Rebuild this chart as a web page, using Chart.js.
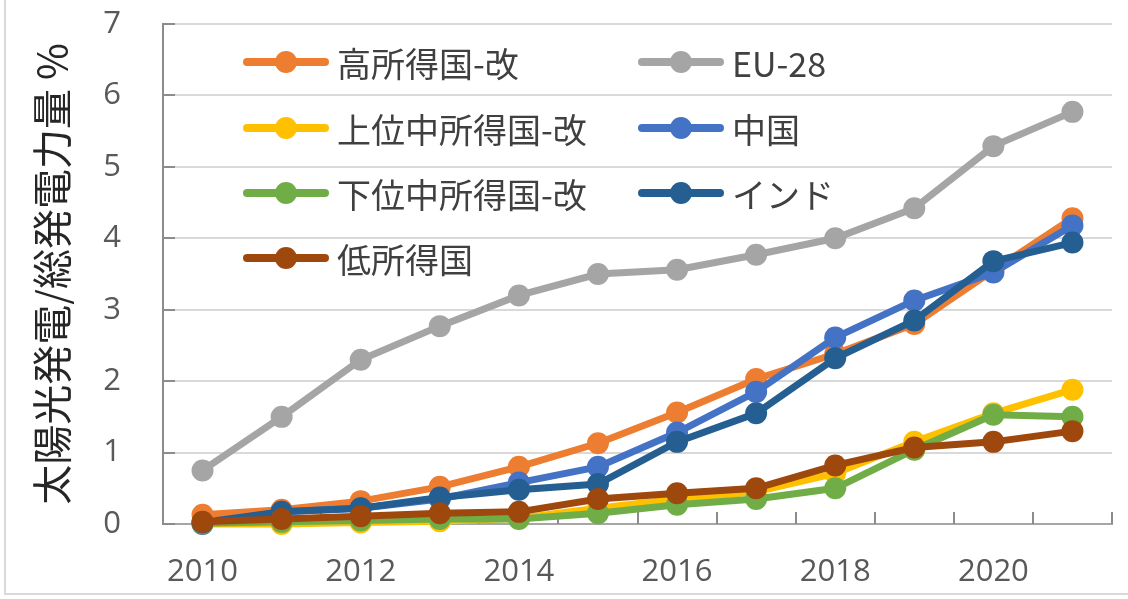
<!DOCTYPE html>
<html><head><meta charset="utf-8">
<script src="https://cdn.jsdelivr.net/npm/chart.js@4/dist/chart.umd.min.js"></script>
<style>
html,body{margin:0;padding:0;background:#fff;}
#wrap{position:relative;width:1128px;height:599px;overflow:hidden;background:#fff;}
#c{position:absolute;left:0;top:0;}
#frame{position:absolute;left:4px;top:-10px;width:1200px;height:605px;border-left:2px solid #d9d9d9;border-bottom:2px solid #d9d9d9;box-sizing:border-box;pointer-events:none;}
.leg{position:absolute;height:40px;display:flex;align-items:center;font-family:"Noto Sans CJK JP","Noto Sans",sans-serif;font-size:34px;color:#404040;white-space:nowrap;}
.sw{position:relative;width:86px;height:24px;margin-right:8px;flex:none;}
.sw .ln{position:absolute;left:0;right:0;top:8px;height:8px;border-radius:4px;}
.sw .dt{position:absolute;left:32px;top:1px;width:22px;height:22px;border-radius:50%;}
</style></head>
<body>
<div id="wrap">
<canvas id="c" width="1128" height="599"></canvas>
<div id="frame"></div>
<div id="legend"></div>
</div>
<script>
const years = ['2010','2011','2012','2013','2014','2015','2016','2017','2018','2019','2020','2021'];
const seriesNames = ['高所得国-改','EU-28','上位中所得国-改','中国','下位中所得国-改','インド','低所得国'];
const highIncome  = [0.13,0.20,0.32,0.52,0.80,1.13,1.56,2.03,2.38,2.80,3.55,4.28];
const eu28        = [0.75,1.50,2.30,2.77,3.20,3.50,3.56,3.77,4.00,4.42,5.29,5.77];
const upperMiddle = [0.00,0.00,0.02,0.04,0.08,0.22,0.35,0.45,0.71,1.15,1.55,1.88];
const china       = [0.00,0.17,0.22,0.35,0.58,0.80,1.28,1.85,2.61,3.13,3.52,4.18];
const lowerMiddle = [0.01,0.03,0.05,0.07,0.07,0.15,0.27,0.35,0.50,1.04,1.53,1.50];
const india       = [0.02,0.17,0.22,0.37,0.48,0.56,1.15,1.55,2.32,2.85,3.68,3.94];
const lowIncome   = [0.03,0.07,0.11,0.15,0.17,0.35,0.43,0.50,0.82,1.07,1.15,1.30];
const yTicks = [0,1,2,3,4,5,6,7];
const yTitle = '太陽光発電/総発電力量 %';

const colors = ['#ED7D31','#A5A5A5','#FFC000','#4472C4','#70AD47','#255E91','#9E480E'];
const values = [highIncome, eu28, upperMiddle, china, lowerMiddle, india, lowIncome];

const datasets = seriesNames.map((n,i)=>({
  label:n, data:values[i], borderColor:colors[i], backgroundColor:colors[i],
  pointBackgroundColor:colors[i], pointBorderWidth:0, pointRadius:11,
  borderWidth:7, tension:0, clip:false, order:seriesNames.length - i
}));

const innerTicks = {
  id:'innerTicks',
  beforeDatasetsDraw(chart){
    const {ctx, chartArea:a, scales:{x,y}} = chart;
    ctx.save();
    ctx.strokeStyle='#8c8c8c'; ctx.lineWidth=2;
    yTicks.forEach(v=>{
      const py = Math.round(y.getPixelForValue(v));
      ctx.beginPath(); ctx.moveTo(a.left, py); ctx.lineTo(a.left+12, py); ctx.stroke();
    });
    const n = years.length;
    const step = (a.right - a.left)/n;
    for(let i=0;i<=n;i++){
      const px = Math.round(a.left + i*step);
      ctx.beginPath(); ctx.moveTo(px, a.bottom); ctx.lineTo(px, a.bottom-12); ctx.stroke();
    }
    ctx.restore();
  }
};

const chart = new Chart(document.getElementById('c'), {
  type:'line',
  data:{labels:years, datasets},
  options:{
    responsive:false, animation:false,
    layout:{padding:{left:0,right:16,top:24,bottom:0}},
    plugins:{legend:{display:false}, tooltip:{enabled:false}},
    scales:{
      x:{
        type:'category', offset:true,
        grid:{display:true, drawOnChartArea:false, drawTicks:false},
        border:{display:true, color:'#a6a6a6', width:2},
        ticks:{autoSkip:false, maxRotation:0, padding:30, color:'#595959',
          font:{family:'"Open Sans", "Liberation Sans", sans-serif', size:31},
          callback:function(v,i){ return i%2===0 ? this.getLabelForValue(v) : ''; }},
        afterFit(s){ s.height = 75; s.paddingLeft = 0; s.paddingRight = 0; }
      },
      y:{
        min:0, max:7,
        afterBuildTicks(s){ s.ticks = yTicks.map(v=>({value:v})); },
        grid:{color:'#d9d9d9', lineWidth:2, drawTicks:false},
        border:{display:true, color:'#8c8c8c', width:2},
        ticks:{padding:42, color:'#595959',
          font:{family:'"Open Sans", "Liberation Sans", sans-serif', size:31}},
        title:{display:true, text:yTitle, color:'#262626', padding:{top:28,bottom:0},
          font:{family:'"Noto Sans CJK JP", sans-serif', size:40}},
        afterFit(s){ s.width = 163; s.paddingTop = 0; s.paddingBottom = 0; }
      }
    }
  },
  plugins:[innerTicks]
});

// legend built from the dataset names/colours
const legPos = [[243,42],[638,42],[243,108],[638,108],[243,173],[638,173],[243,238]];
const legend = document.getElementById('legend');
seriesNames.forEach((n,i)=>{
  const d = document.createElement('div');
  d.className='leg';
  d.style.left = legPos[i][0]+'px'; d.style.top = legPos[i][1]+'px';
  d.innerHTML = '<span class="sw"><span class="ln" style="background:'+colors[i]+'"></span><span class="dt" style="background:'+colors[i]+'"></span></span><span></span>';
  d.lastChild.textContent = n;
  legend.appendChild(d);
});
</script>
</body></html>
